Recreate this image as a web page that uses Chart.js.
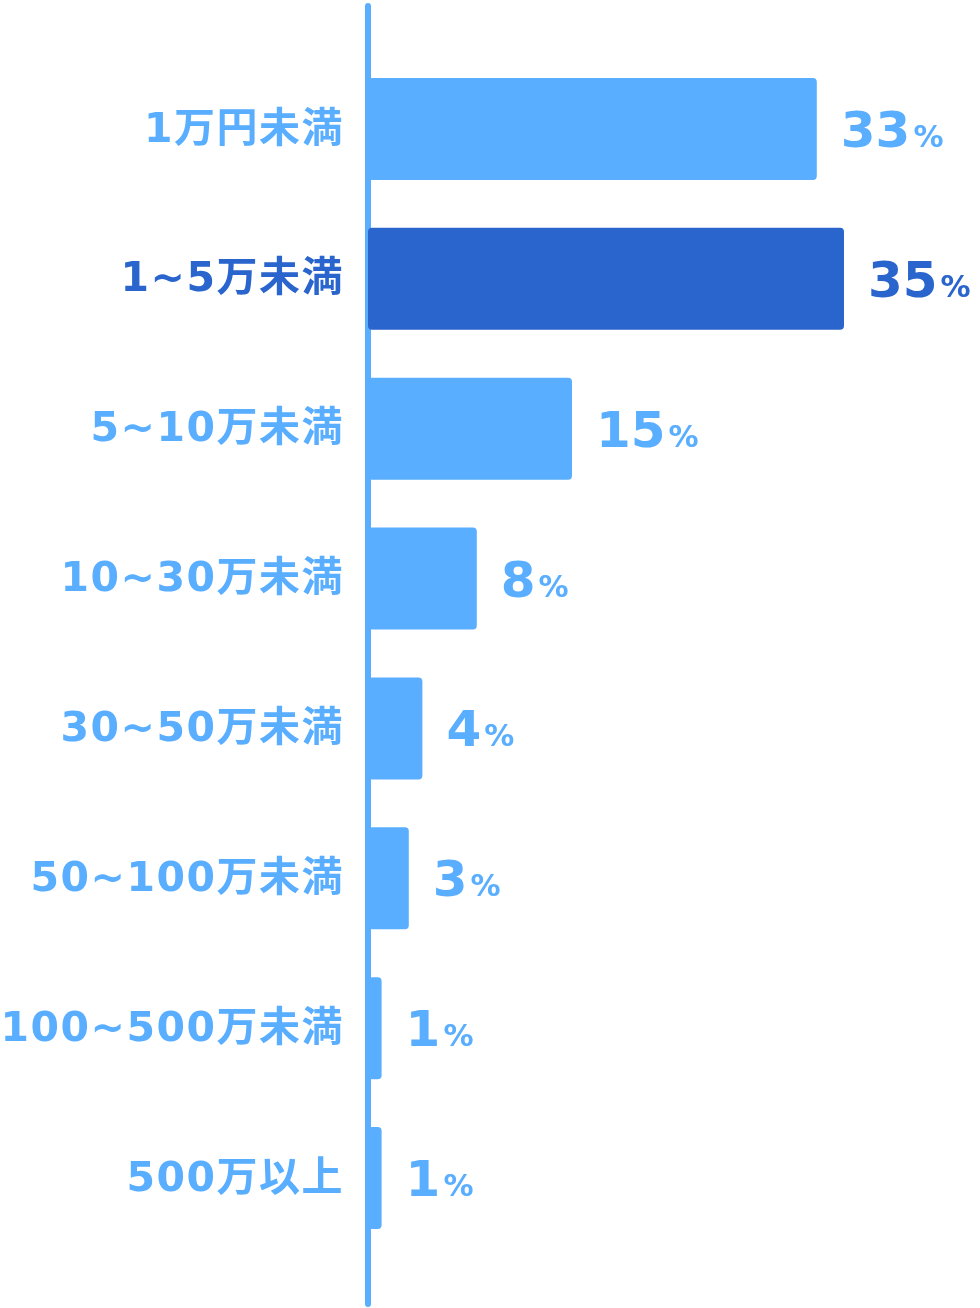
<!DOCTYPE html>
<html>
<head>
<meta charset="utf-8">
<script src="https://cdn.jsdelivr.net/npm/chart.js@4/dist/chart.umd.min.js"></script>
<style>
  html, body { margin: 0; padding: 0; background: #fff; }
  #wrap { width: 980px; height: 1308px; }
</style>
</head>
<body>
<div id="wrap"><canvas id="incomeChart" width="980" height="1308"></canvas></div>
<script>
// chart data
const categories = ["1万円未満", "1~5万未満", "5~10万未満", "10~30万未満", "30~50万未満", "50~100万未満", "100~500万未満", "500万以上"];
const shares = [33, 35, 15, 8, 4, 3, 1, 1];
const highlightIndex = 1;

const LIGHT = "#5aaeff";
const DARK = "#2a64cd";
const colorFor = i => (i === highlightIndex ? DARK : LIGHT);

// vertical axis line drawn behind the bars
const axisLine = {
    id: "axisLine",
    beforeDatasetsDraw(chart) {
        const ctx = chart.ctx;
        const x = chart.scales.x.getPixelForValue(0);
        ctx.save();
        ctx.strokeStyle = LIGHT;
        ctx.lineWidth = 6;
        ctx.lineCap = "round";
        ctx.beginPath();
        ctx.moveTo(x, 6);
        ctx.lineTo(x, chart.height - 4);
        ctx.stroke();
        ctx.restore();
    }
};

// category names on the left and value labels on the right
const labelsPlugin = {
    id: "labelsPlugin",
    afterDatasetsDraw(chart) {
        const ctx = chart.ctx;
        const xs = chart.scales.x, ys = chart.scales.y;
        ctx.save();
        categories.forEach((name, i) => {
            const y = ys.getPixelForTick(i);
            ctx.fillStyle = colorFor(i);

            ctx.letterSpacing = "1.5px";
            ctx.textBaseline = "middle";
            ctx.textAlign = "right";
            ctx.font = "bold 41px 'DejaVu Sans', 'Noto Sans CJK JP', sans-serif";
            ctx.fillText(name, xs.getPixelForValue(0) - 24, y + 2);

            // value: big number + small percent sign
            ctx.letterSpacing = "0px";
            ctx.textAlign = "left";
            ctx.textBaseline = "alphabetic";
            const start = xs.getPixelForValue(shares[i]) + 24;
            const base = y + 18;
            ctx.font = "bold 50px 'DejaVu Sans', sans-serif";
            const num = String(shares[i]);
            ctx.fillText(num, start, base);
            const w = ctx.measureText(num).width;
            ctx.font = "bold 30px 'DejaVu Sans', sans-serif";
            ctx.fillText("%", start + w + 3, base);
        });
        ctx.restore();
    }
};

const ctx = document.getElementById("incomeChart").getContext("2d");
new Chart(ctx, {
    type: "bar",
    data: {
        labels: categories,
        datasets: [{
            data: shares,
            backgroundColor: categories.map((_, i) => colorFor(i)),
            borderRadius: 4,
            borderSkipped: false,
            categoryPercentage: 0.68,
            barPercentage: 1
        }]
    },
    options: {
        indexAxis: "y",
        responsive: false,
        animation: false,
        layout: { padding: { left: 368, right: 0, top: 54, bottom: 55 } },
        plugins: { legend: { display: false }, tooltip: { enabled: false } },
        scales: {
            x: { display: false, min: 0, max: 45 },
            y: { display: false }
        }
    },
    plugins: [axisLine, labelsPlugin]
});
</script>
</body>
</html>
